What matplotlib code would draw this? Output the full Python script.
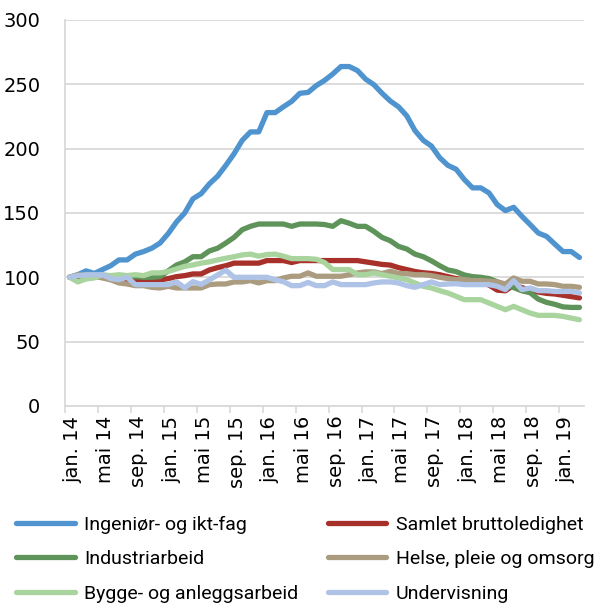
import numpy as np
import matplotlib
matplotlib.use("Agg")
import matplotlib.pyplot as plt

# indeks, jan. 2014 = 100, månedlig jan. 14 - mar. 19
ingenior = [100, 102, 105, 103, 106, 109, 113.5, 113.5, 118, 120, 122.6, 126.6, 134, 143, 150, 161,
            165, 172.6, 178.6, 187, 196, 206.5, 213, 213, 228, 228, 232.5, 236.7, 243, 243.7, 249,
            253, 258, 263.8, 263.8, 260.7, 254, 249.7, 243, 237, 232.5, 225.5, 214, 206.5, 202, 193,
            187, 184, 176, 169.5, 169.5, 165.6, 156.5, 151.8, 154.4, 147.4, 141, 134.4, 131.8, 125.8,
            120, 120, 115.4]
samlet = [100, 100, 101, 101, 100, 99, 98.5, 98, 97.4, 97.4, 97.4, 98, 99, 100.5, 101.3, 102.6,
          102.6, 105.7, 107.5, 109, 111, 111, 111, 111, 113, 113, 113, 111.5, 113, 113, 113,
          113, 113, 113, 113, 113, 112, 111, 110, 109.5, 107.5, 106, 104.5, 103.5, 103, 102,
          100.5, 99, 98, 97, 96, 94, 90, 89.5, 94, 92, 90, 88.5, 87.5, 87, 86, 85, 84]
industri = [100, 101, 102, 102, 101, 101, 100, 100, 100.5, 100, 100, 100.5, 105, 109.5, 112, 116,
            116, 120.5, 122.6, 126.6, 131, 137, 139.6, 141.4, 141.4, 141.4, 141.4, 139.6, 141.4, 141.4, 141.4,
            141, 139.6, 144, 142, 139.6, 139.6, 135.7, 131, 128.4, 124, 122, 118, 116, 112.8, 109,
            105.7, 104.4, 101.8, 100.5, 100, 99, 96.5, 94, 92, 89.5, 88, 83, 80.5, 79, 77, 76.6, 76.6]
helse = [100, 102, 101, 100.8, 99.5, 98, 95.6, 94.8, 93.5, 93.5, 92.2, 91.7, 93, 91.7, 91.7, 91.7,
         91.7, 94.3, 94.8, 94.8, 96.4, 96.4, 97.4, 95.6, 97.4, 97.4, 99.5, 100.8, 100.8, 103.4, 100.8,
         100.8, 100.8, 100.8, 102, 103.4, 104.2, 104.2, 102.9, 104.7, 102.9, 102.9, 102, 102, 101.3, 100,
         99, 98.2, 98.2, 97.4, 97.4, 96.9, 96.4, 94.8, 99.5, 96.9, 96.9, 94.8, 94.8, 94.3, 93, 93, 92.2]
bygge = [100, 96.4, 98.7, 99.5, 102, 101.3, 102, 101.3, 102, 101.3, 103.4, 103.4, 104.5, 106.5, 108.5, 109.6,
         111, 112, 113.5, 114.8, 116, 117.4, 118, 116.4, 117.7, 118, 116.4, 114.5, 114.5, 114.5, 114,
         111.5, 106, 106, 106, 102, 102, 103.4, 102, 100.8, 99.5, 98.2, 95.6, 93, 91.7, 89.6,
         87.8, 85.2, 82.6, 82.6, 82.6, 80, 77.4, 74.8, 77.4, 74.8, 72.2, 70.4, 70.4, 70.4, 69.6, 68.3, 67]
undervisning = [100, 101.3, 102, 102, 102, 99, 98.2, 100, 94.3, 94.3, 94.3, 94.3, 94.3, 96.5, 91.8, 96.6,
                94.5, 98, 101.8, 105.5, 100, 100, 100, 100, 100, 98, 96.6, 93.5, 93.5, 96, 93.5,
                93.5, 96.4, 94.3, 94.3, 94.3, 94.3, 95.6, 96.4, 96.4, 95.6, 93.5, 92.2, 94.3, 96.4, 94.3,
                94.8, 95, 94.3, 94.3, 94.3, 94.3, 93, 90.4, 97.4, 90.4, 91.7, 89.6, 89.6, 89, 89, 89, 87.8]

tick_labels = ["jan. 14", "mai 14", "sep. 14", "jan. 15", "mai 15", "sep. 15", "jan. 16", "mai 16",
               "sep. 16", "jan. 17", "mai 17", "sep. 17", "jan. 18", "mai 18", "sep. 18", "jan. 19"]

serier = [
    ("Ingeniør- og ikt-fag", ingenior, "#4f94cf"),
    ("Samlet bruttoledighet", samlet, "#a8302a"),
    ("Industriarbeid", industri, "#5e9459"),
    ("Helse, pleie og omsorg", helse, "#ab9c80"),
    ("Bygge- og anleggsarbeid", bygge, "#a9d49e"),
    ("Undervisning", undervisning, "#afc3e7"),
]

fig = plt.figure(figsize=(6.06, 6.05), dpi=100)
ax = fig.add_axes([0.108, 0.329, 0.855, 0.638])

x = np.arange(len(ingenior))
linjer = {}
for navn, verdier, farge in serier:
    l, = ax.plot(x, verdier, color=farge, lw=3.8, label=navn,
                 solid_joinstyle="round", solid_capstyle="round")
    linjer[navn] = l

ax.set_xlim(-0.5, len(x) - 0.5)
ax.set_ylim(0, 300)
ax.set_yticks(np.arange(0, 301, 50))
ax.yaxis.grid(True, color="#d9d9d9", lw=1.3)
ax.set_axisbelow(True)

# tick marks between categories, labels on the months
ax.set_xticks(np.arange(-0.5, len(x), 4))
ax.set_xticklabels([])
ax.set_xticks(np.arange(0, len(x), 4) + 0.4, minor=True)
ax.set_xticklabels(tick_labels, minor=True, rotation=90, fontsize=14)
ax.tick_params(axis="x", which="major", length=5, color="#d9d9d9", width=1.2)
ax.tick_params(axis="x", which="minor", length=0, pad=7)
ax.tick_params(axis="y", length=0, labelsize=14, pad=18)

for side in ["top", "right"]:
    ax.spines[side].set_visible(False)
for side in ["left", "bottom"]:
    ax.spines[side].set_color("#d9d9d9")
    ax.spines[side].set_linewidth(1.3)

rekkefolge = ["Ingeniør- og ikt-fag", "Industriarbeid", "Bygge- og anleggsarbeid",
              "Samlet bruttoledighet", "Helse, pleie og omsorg", "Undervisning"]
fig.legend([linjer[n] for n in rekkefolge], rekkefolge, loc="upper left",
           bbox_to_anchor=(0.027, 0.148), ncol=2, frameon=False,
           prop={"family": ["Roboto", "DejaVu Sans"], "size": 14},
           handlelength=3.0, handletextpad=0.5, columnspacing=1.5,
           labelspacing=0.86, borderpad=0, borderaxespad=0)

fig.savefig("out.png", dpi=100)
